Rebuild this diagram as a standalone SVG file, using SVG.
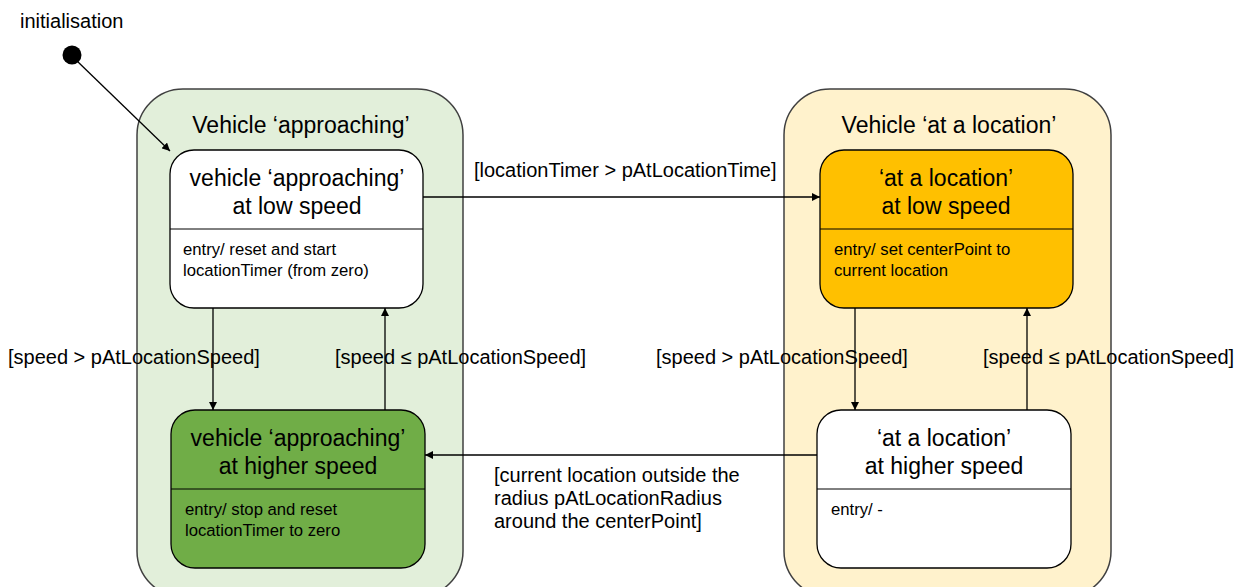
<svg xmlns="http://www.w3.org/2000/svg" width="1246" height="587" viewBox="0 0 1246 587">
<defs>
<marker id="arr" viewBox="0 0 10 10" refX="10" refY="5" markerWidth="8" markerHeight="8" markerUnits="userSpaceOnUse" orient="auto">
<path d="M0,0 L10,5 L0,10 z" fill="#000"/>
</marker>
<style>
text{font-family:"Liberation Sans",Arial,sans-serif;fill:#000}
.lbl{font-size:20px}
.ttl{font-size:23px;text-anchor:middle}
.ent{font-size:16.7px}
.cont{stroke:#404040;stroke-width:1.5}
.st{stroke:#000;stroke-width:1.3}
.div{stroke:#000;stroke-width:1}
.con{stroke:#000;stroke-width:1.3;fill:none;marker-end:url(#arr)}
</style>
</defs>
<rect width="1246" height="587" fill="#fff"/>

<g id="init">
<text class="lbl" x="20" y="28">initialisation</text>
<circle cx="72" cy="55" r="9.5" fill="#000"/>
</g>

<g id="approaching">
<rect class="cont" x="137" y="89" width="326" height="508" rx="46" fill="#E2EFDA"/>
<text class="ttl" x="301" y="133">Vehicle ‘approaching’</text>
</g>

<g id="at-location">
<rect class="cont" x="784" y="89" width="327" height="508" rx="46" fill="#FFF2CC"/>
<text class="ttl" x="949" y="133">Vehicle ‘at a location’</text>
</g>

<g id="appr-low">
<rect class="st" x="170" y="150" width="253" height="158" rx="24" fill="#fff"/>
<line class="div" x1="170" y1="229" x2="423" y2="229"/>
<text class="ttl" x="297" y="186">vehicle ‘approaching’</text>
<text class="ttl" x="297" y="214">at low speed</text>
<text class="ent" x="183" y="255">entry/ reset and start</text>
<text class="ent" x="183" y="276">locationTimer (from zero)</text>
</g>

<g id="appr-high">
<rect class="st" x="171" y="410" width="254" height="158" rx="24" fill="#70AD47"/>
<line class="div" x1="171" y1="489" x2="425" y2="489"/>
<text class="ttl" x="298" y="446">vehicle ‘approaching’</text>
<text class="ttl" x="298" y="474">at higher speed</text>
<text class="ent" x="185" y="515">entry/ stop and reset</text>
<text class="ent" x="185" y="536">locationTimer to zero</text>
</g>

<g id="loc-low">
<rect class="st" x="820" y="150" width="253" height="158" rx="24" fill="#FFC000"/>
<line class="div" x1="820" y1="229" x2="1073" y2="229"/>
<text class="ttl" x="946" y="186">‘at a location’</text>
<text class="ttl" x="946" y="214">at low speed</text>
<text class="ent" x="834" y="255">entry/ set centerPoint to</text>
<text class="ent" x="834" y="276">current location</text>
</g>

<g id="loc-high">
<rect class="st" x="817" y="410" width="254" height="158" rx="24" fill="#fff"/>
<line class="div" x1="817" y1="489" x2="1071" y2="489"/>
<text class="ttl" x="944" y="446">‘at a location’</text>
<text class="ttl" x="944" y="474">at higher speed</text>
<text class="ent" x="831" y="515">entry/ -</text>
</g>

<g id="connectors">
<line class="con" x1="77" y1="61" x2="170" y2="151"/>
<line class="con" x1="213" y1="308" x2="213" y2="410"/>
<line class="con" x1="385" y1="410" x2="385" y2="308"/>
<line class="con" x1="423" y1="197" x2="820" y2="197"/>
<line class="con" x1="855" y1="308" x2="855" y2="410"/>
<line class="con" x1="1027" y1="410" x2="1027" y2="308"/>
<line class="con" x1="817" y1="455" x2="425" y2="455"/>
</g>

<g id="labels">
<text class="lbl" x="8" y="364">[speed &gt; pAtLocationSpeed]</text>
<text class="lbl" x="335" y="364">[speed ≤ pAtLocationSpeed]</text>
<text class="lbl" x="656" y="364">[speed &gt; pAtLocationSpeed]</text>
<text class="lbl" x="983" y="364">[speed ≤ pAtLocationSpeed]</text>
<text class="lbl" x="474" y="177">[locationTimer &gt; pAtLocationTime]</text>
<text class="lbl" x="494" y="482">[current location outside the</text>
<text class="lbl" x="494" y="505">radius pAtLocationRadius</text>
<text class="lbl" x="494" y="528">around the centerPoint]</text>
</g>
</svg>
